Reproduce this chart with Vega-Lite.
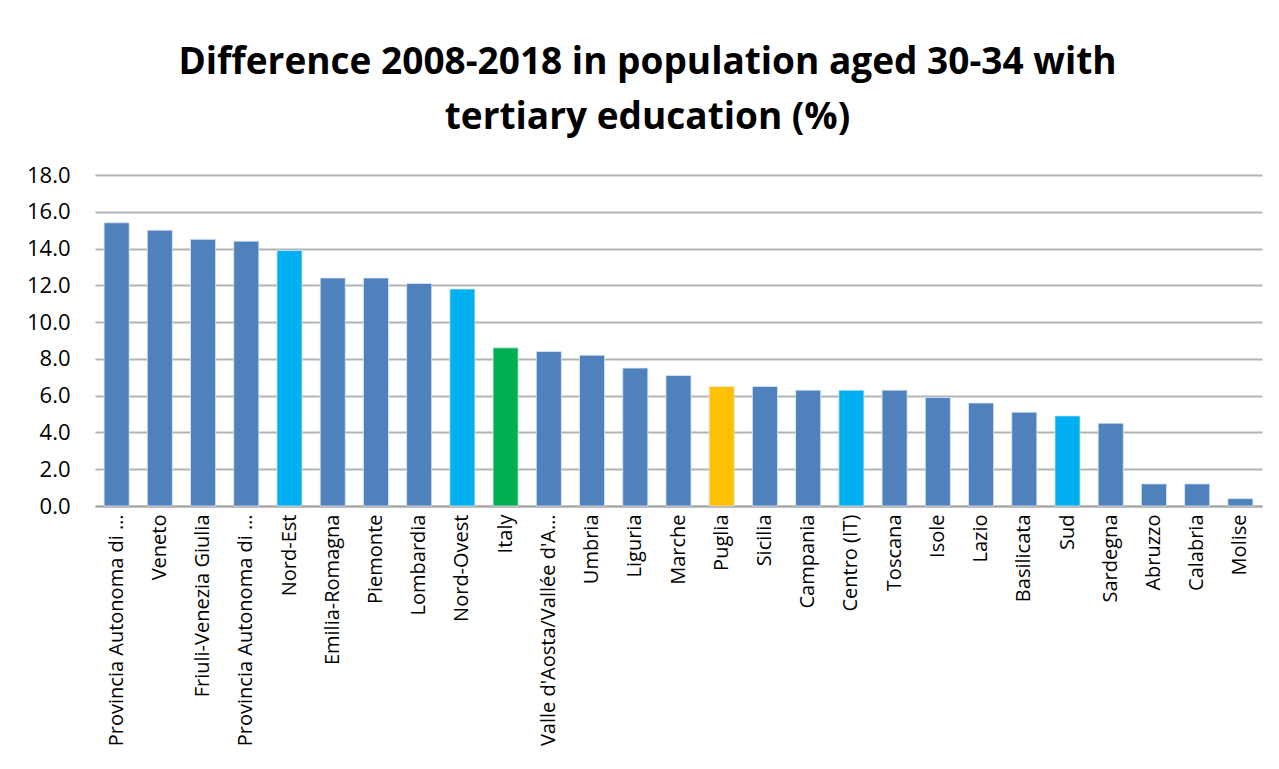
{
  "$schema": "https://vega.github.io/schema/vega-lite/v6.json",
  "autosize": {"type": "none"},
  "width": 1167,
  "height": 331,
  "padding": {"left": 95, "top": 175, "right": 17, "bottom": 263},
  "background": "white",
  "title": {
    "text": ["Difference 2008-2018 in population aged 30-34 with", "tertiary education (%)"],
    "font": "Open Sans",
    "fontSize": 37,
    "fontWeight": "bold",
    "color": "#000000",
    "anchor": "middle",
    "dx": -31,
    "lineHeight": 55,
    "offset": 27
  },
  "data": {
    "values": [
      {"region": "Provincia Autonoma di Bolzano/Bozen", "value": 15.4, "group": "region"},
      {"region": "Veneto", "value": 15.0, "group": "region"},
      {"region": "Friuli-Venezia Giulia", "value": 14.5, "group": "region"},
      {"region": "Provincia Autonoma di Trento", "value": 14.4, "group": "region"},
      {"region": "Nord-Est", "value": 13.9, "group": "macro"},
      {"region": "Emilia-Romagna", "value": 12.4, "group": "region"},
      {"region": "Piemonte", "value": 12.4, "group": "region"},
      {"region": "Lombardia", "value": 12.1, "group": "region"},
      {"region": "Nord-Ovest", "value": 11.8, "group": "macro"},
      {"region": "Italy", "value": 8.6, "group": "italy"},
      {"region": "Valle d'Aosta/Vallée d'Aoste", "value": 8.4, "group": "region"},
      {"region": "Umbria", "value": 8.2, "group": "region"},
      {"region": "Liguria", "value": 7.5, "group": "region"},
      {"region": "Marche", "value": 7.1, "group": "region"},
      {"region": "Puglia", "value": 6.5, "group": "puglia"},
      {"region": "Sicilia", "value": 6.5, "group": "region"},
      {"region": "Campania", "value": 6.3, "group": "region"},
      {"region": "Centro (IT)", "value": 6.3, "group": "macro"},
      {"region": "Toscana", "value": 6.3, "group": "region"},
      {"region": "Isole", "value": 5.9, "group": "region"},
      {"region": "Lazio", "value": 5.6, "group": "region"},
      {"region": "Basilicata", "value": 5.1, "group": "region"},
      {"region": "Sud", "value": 4.9, "group": "macro"},
      {"region": "Sardegna", "value": 4.5, "group": "region"},
      {"region": "Abruzzo", "value": 1.2, "group": "region"},
      {"region": "Calabria", "value": 1.2, "group": "region"},
      {"region": "Molise", "value": 0.4, "group": "region"}
    ]
  },
  "mark": {"type": "bar", "stroke": "#dce6f2", "strokeWidth": 0.8},
  "encoding": {
    "x": {
      "field": "region",
      "type": "nominal",
      "sort": null,
      "scale": {"paddingInner": 0.42, "paddingOuter": 0.21},
      "axis": {
        "title": null,
        "labelAngle": -90,
        "labelAlign": "right",
        "labelBaseline": "middle",
        "labelFont": "Open Sans",
        "labelFontSize": 20,
        "labelColor": "#000000",
        "labelLimit": 232,
        "labelPadding": 8,
        "ticks": false,
        "domain": true,
        "domainColor": "#a6a6a6",
        "domainWidth": 2,
        "grid": false
      }
    },
    "y": {
      "field": "value",
      "type": "quantitative",
      "scale": {"domain": [0, 18], "nice": false},
      "axis": {
        "title": null,
        "values": [0, 2, 4, 6, 8, 10, 12, 14, 16, 18],
        "format": ".1f",
        "labelFont": "Open Sans",
        "labelFontSize": 22,
        "labelColor": "#000000",
        "labelPadding": 25,
        "ticks": false,
        "domain": false,
        "grid": true,
        "gridColor": "#b3b3b3",
        "gridWidth": 2
      }
    },
    "color": {
      "field": "group",
      "type": "nominal",
      "scale": {
        "domain": ["region", "macro", "italy", "puglia"],
        "range": ["#4f81bd", "#00b0f0", "#00b050", "#ffc000"]
      },
      "legend": null
    }
  },
  "config": {"view": {"stroke": null}}
}
